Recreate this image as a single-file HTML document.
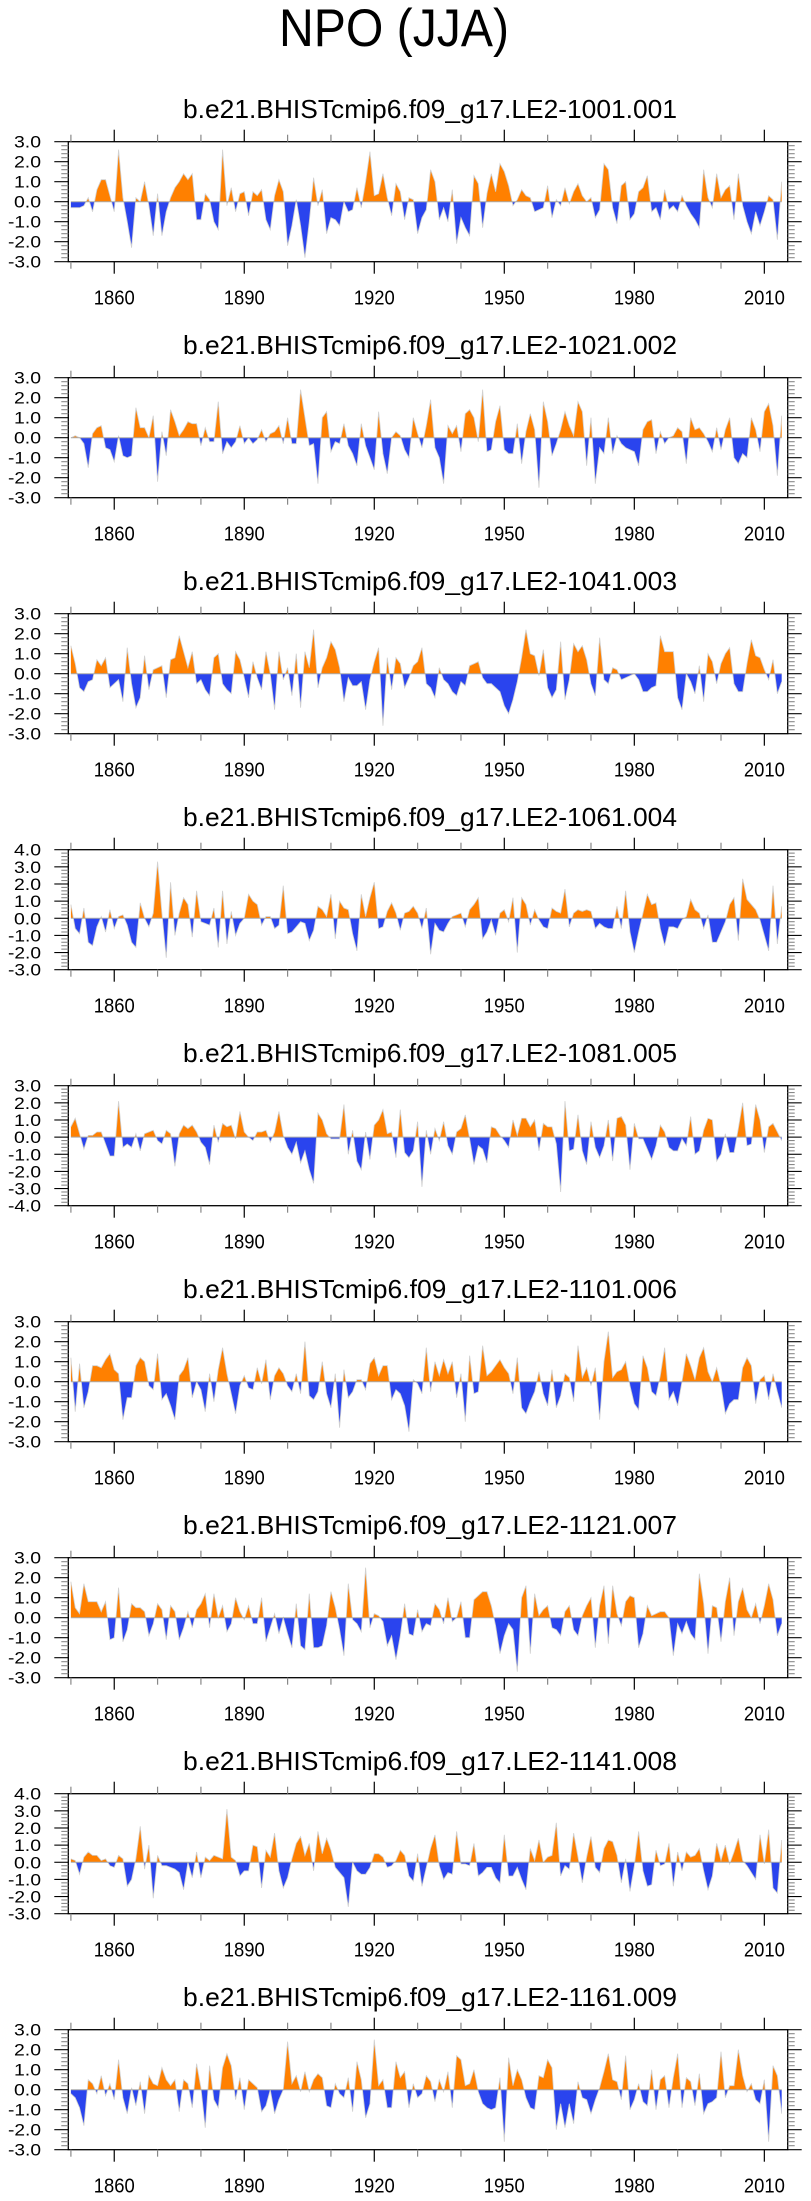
<!DOCTYPE html>
<html><head><meta charset="utf-8">
<style>
html,body{margin:0;padding:0;background:#fff;}
svg{display:block;font-family:"Liberation Sans",sans-serif;}
</style></head>
<body>
<svg id="fig" width="811" height="2201" viewBox="0 0 811 2201" xmlns="http://www.w3.org/2000/svg">
<text x="394" y="46" font-size="53" text-anchor="middle" textLength="230" lengthAdjust="spacingAndGlyphs">NPO (JJA)</text>
</svg>
<script>
const startYear = 1850;
const panelTitles = ["b.e21.BHISTcmip6.f09_g17.LE2-1001.001","b.e21.BHISTcmip6.f09_g17.LE2-1021.002","b.e21.BHISTcmip6.f09_g17.LE2-1041.003","b.e21.BHISTcmip6.f09_g17.LE2-1061.004","b.e21.BHISTcmip6.f09_g17.LE2-1081.005","b.e21.BHISTcmip6.f09_g17.LE2-1101.006","b.e21.BHISTcmip6.f09_g17.LE2-1121.007","b.e21.BHISTcmip6.f09_g17.LE2-1141.008","b.e21.BHISTcmip6.f09_g17.LE2-1161.009"];
const yMins = [-3,-3,-3,-3,-4,-3,-3,-3,-3];
const yMaxs = [3,3,3,4,3,3,3,4,3];
const xTickYears = [1850,1860,1870,1880,1890,1900,1910,1920,1930,1940,1950,1960,1970,1980,1990,2000,2010];
const xLabelYears = [1860,1890,1920,1950,1980,2010];
const s1 = [-0.3,-0.3,-0.3,-0.2,0.2,-0.5,0.6,1.1,1.1,0.3,-0.5,2.6,0.2,-1.0,-2.3,0.2,0,1.0,-0.2,-1.7,0.4,-1.7,-0.5,0.2,0.7,1.0,1.4,1.1,1.4,-0.9,-0.9,0.4,0.1,-1.0,-1.4,2.6,-0.2,0.7,-0.5,0.4,0.5,-0.7,0.5,0.3,0.6,-0.9,-1.4,0.3,1.1,0.5,-2.2,-1.2,0.1,-1.2,-2.8,-1.0,1.2,-0.2,0.6,-1.6,-0.8,-0.9,-1.2,0.0,-0.5,-0.4,0.7,-0.3,1.0,2.5,0.3,0.4,1.4,0.2,-0.7,0.9,0.5,-0.9,0.2,0.1,-1.6,-0.8,-0.4,1.6,1.0,-0.9,-0.3,-1.0,0.6,-2.1,-0.8,-1.3,-1.7,1.3,0.9,-1.3,0.4,1.4,0.5,1.9,1.5,0.8,-0.2,0.1,0.6,0.3,0.2,-0.5,-0.4,-0.3,0.8,-0.8,0.1,-0.2,0.7,-0.1,0.5,0.9,0.3,0.0,0.2,-0.8,-0.4,1.9,1.6,-0.3,-1.1,0.8,1.0,-0.9,-0.6,0.5,0.7,1.3,-0.5,-0.3,-0.9,0.6,-0.4,-0.2,-0.5,0.3,-0.2,-0.6,-0.9,-1.3,1.6,0.2,-0.3,1.4,0.2,0.6,0.8,-0.9,1.4,-0.2,-1.0,-1.6,-0.5,-1.2,-0.5,0.3,0.1,-1.9,1.0];
const s2 = [0.0,0.1,0.0,-0.3,-1.5,0.2,0.5,0.6,-0.5,-0.6,-1.2,0.1,-0.9,-1.0,-0.9,1.5,0.5,0.5,0.0,1.1,-2.2,0.3,-0.9,1.4,0.8,0.1,0.4,0.8,0.7,0.7,-0.4,0.5,-0.2,-0.2,1.8,-0.8,-0.2,-0.5,-0.2,0.6,-0.3,0.0,-0.3,-0.1,0.4,-0.2,0.2,0.3,0.6,-0.3,1.0,-0.3,-0.3,2.4,1.0,-0.4,-0.3,-2.3,1.0,1.3,-0.7,-0.2,-0.3,0.7,-0.4,-0.8,-1.4,0.7,-0.4,-1.0,-1.6,1.3,-0.8,-1.8,0.0,0.3,0.1,-0.6,-1.0,1.0,0.2,-0.5,0.6,1.9,-0.5,-1.0,-2.3,0.6,0.2,0.6,-0.7,1.2,1.4,1.0,-0.2,2.4,-0.7,-0.6,0.8,1.6,-0.6,-0.8,-0.8,0.7,-1.3,0.3,1.2,0.4,-2.5,1.8,0.8,-0.9,-0.3,0.4,1.3,0.6,0.1,1.8,1.3,-1.4,1.0,-2.3,-0.5,-0.8,1.0,-0.8,0.1,-0.3,-0.5,-0.6,-0.7,-1.4,0.4,0.8,0.9,-0.8,0.3,-0.3,0.0,0.1,0.5,0.3,-1.3,1.0,0.4,0.5,0.2,-0.2,-0.7,0.5,-0.6,0.4,1.0,-1.0,-1.3,-0.8,-1.0,1.0,0.4,-0.7,1.3,1.7,0.6,-1.9,1.1];
const s3 = [1.4,0.5,-0.7,-0.9,-0.4,-0.3,0.7,0.4,0.8,-0.7,-0.5,-0.3,-1.4,1.3,-0.5,-1.7,-1.2,0.9,-0.8,0.2,0.3,0.4,-1.2,0.7,0.8,1.9,1.1,0.3,1.1,-0.5,-0.3,-0.8,-1.1,0.8,1.0,-0.5,-0.8,-1.0,1.1,0.7,-0.2,-1.2,0.6,-0.2,-0.8,1.1,0.0,-1.8,1.1,-0.3,0.3,-1.1,1.0,-1.7,1.1,0.3,2.2,-0.7,0.3,0.8,1.6,1.2,0.3,-1.4,-0.2,-0.6,-0.6,-0.4,-1.8,-0.3,0.6,1.3,-2.6,0.8,-0.8,0.8,0.5,-0.7,-0.2,0.4,0.6,1.3,-0.5,-0.7,-1.2,0.3,-0.3,-0.5,-0.9,-1.1,-0.4,-0.6,0.4,0.5,0.6,-0.2,-0.5,-0.5,-0.7,-0.9,-1.6,-2.0,-1.3,-0.4,0.8,2.2,1.0,0.9,-0.1,1.2,-0.7,-1.2,-0.8,1.6,-1.3,-0.3,1.5,1.1,1.4,0.7,-0.5,-1.1,1.8,-0.3,-0.5,0.3,0.2,-0.3,-0.2,-0.1,0.0,-0.3,-0.9,-0.9,-0.7,-0.6,1.9,1.1,1.1,1.1,-1.2,-1.8,0.0,-0.4,-1.0,0.4,-1.4,1.0,0.6,-0.5,0.5,1.0,1.3,-0.5,-0.9,-0.9,0.5,1.7,0.9,0.8,0.2,-0.3,0.7,-1.0,-0.4];
const s4 = [0.8,-0.6,-0.9,0.6,-1.4,-1.6,-0.5,0.1,-0.8,0.5,-0.6,0.1,0.2,-0.4,-1.4,-1.7,0.9,0.0,-0.5,0.3,3.3,0.3,-2.3,2.1,-1.0,0.3,1.2,0.8,-1.1,1.6,-0.2,-0.3,-0.4,0.6,-1.7,1.6,-1.5,0.4,-1.0,-0.3,0.0,1.4,1.0,0.8,-0.4,0.1,0.1,-0.6,-0.4,1.9,-0.9,-0.8,-0.5,-0.2,-0.3,-1.3,-0.7,0.7,0.5,0.1,1.4,-1.2,1.0,0.6,0.5,-0.9,-1.9,1.4,0.1,1.2,2.1,-0.6,-0.5,0.4,0.9,0.3,-0.7,0.3,0.4,0.7,0.3,-0.6,0.6,-2.1,-0.3,-0.7,-0.8,-0.3,0.1,0.2,0.3,-0.5,0.5,0.8,1.2,-1.2,-0.8,-0.1,-1.0,0.3,0.5,-0.2,1.2,-2.0,1.2,0.8,-0.4,0.5,-0.1,-0.5,-0.6,0.6,0.4,0.3,1.7,-0.5,0.3,0.5,0.4,0.5,0.4,-0.6,-0.3,-0.5,-0.6,-0.6,0.7,-0.6,1.6,-0.8,-2.0,-0.8,0.3,1.4,0.8,0.9,-0.6,-1.6,-0.5,-0.5,-0.6,-0.1,0.1,1.1,0.5,0.3,-0.6,0.2,-1.4,-1.4,-0.8,-0.2,0.8,1.2,-1.3,2.3,1.1,0.8,0.5,-0.1,-1.0,-1.9,1.9,-1.5,0.7];
const s5 = [0.6,1.1,0.2,-0.7,0.1,0.1,0.3,0.3,-0.4,-1.1,-1.1,2.1,-0.6,-0.4,-0.6,0.2,-0.8,0.2,0.3,0.4,-0.2,-0.4,0.4,0.2,-1.7,0.2,0.7,0.5,0.7,0.3,-0.3,-0.6,-1.6,0.7,-0.3,0.8,0.6,0.7,-0.1,1.5,0.3,0.0,-0.2,0.3,0.3,0.4,-0.3,0.3,1.5,0.1,-0.6,-1.0,-0.3,-1.5,-0.8,-1.9,-2.7,1.4,1.0,0.2,-0.1,-0.1,-0.1,1.9,-1.0,0.4,-1.4,-1.9,0.3,-1.3,0.7,1.0,1.6,0.2,0.3,-1.2,1.6,-0.9,-1.2,-0.8,0.9,-2.9,0.4,-1.0,0.5,-0.2,0.9,-0.5,-1.0,0.3,0.5,1.3,-0.1,-1.6,-0.5,-0.7,-1.5,0.6,0.5,0.1,-0.2,-0.6,1.0,0.1,1.1,1.1,0.6,1.0,-0.8,0.8,0.6,0.6,-0.4,-3.2,2.1,-0.8,-0.7,1.3,-0.8,-1.6,0.9,-0.6,-1.2,-0.5,1.0,-1.4,1.1,1.2,0.7,-1.9,0.8,-0.1,-0.1,-0.7,-1.3,-0.5,0.7,0.3,-0.6,-0.8,-0.8,-0.1,-0.5,1.2,-1.0,-0.8,0.4,1.1,1.0,-1.4,-1.0,0.2,-0.9,-0.9,0.5,2.0,-0.5,-0.4,1.9,1.0,-0.9,0.6,0.8,0.3,-0.2];
const s6 = [1.2,-1.5,0.9,-1.3,-0.5,0.8,0.8,0.7,1.1,1.4,0.6,0.4,-1.9,-0.8,-0.8,0.8,1.2,1.0,-0.2,-0.4,1.4,-0.9,-0.6,-1.2,-1.9,0.3,0.6,1.2,-0.8,0.0,-0.4,-1.5,0.4,-1.0,0.6,1.7,0.4,-0.6,-1.6,-0.2,0.3,-0.3,-0.4,0.7,-0.1,1.1,-0.9,0.3,0.7,0.4,-0.2,-0.5,0.4,-0.6,2.0,-0.7,-0.9,-0.5,1.0,-0.6,-1.3,0.4,-2.3,0.6,-0.8,-0.5,0.1,0.1,-0.4,0.9,1.2,0.3,0.8,0.8,-0.9,-0.4,-0.6,-1.2,-2.5,0.1,-0.1,-0.6,1.7,-0.5,1.0,0.3,1.1,0.4,1.0,-0.8,0.4,-2.0,1.3,-0.6,-0.5,1.8,0.3,0.5,0.8,1.1,0.7,0.4,-0.6,1.2,-1.3,-1.6,-1.0,-0.5,0.5,-0.6,-1.2,0.6,-1.3,-0.7,0.4,0.2,-1.0,1.8,0.2,0.7,-0.2,0.7,-1.9,1.0,2.5,0.2,0.5,0.6,1.0,-0.2,-1.1,-1.4,1.3,0.7,-0.5,-0.7,0.3,1.7,-0.9,-0.5,-1.2,0.0,1.4,0.8,0.1,1.2,1.7,0.5,0.0,0.7,-0.2,-1.6,-1.1,-0.9,-0.9,0.7,1.2,0.8,-1.1,0.1,0.3,-0.9,0.4,-0.5,-1.3];
const s7 = [1.8,0.5,0.2,1.7,0.8,0.8,0.8,0.3,0.8,-1.1,-1.0,1.5,-1.2,-0.6,0.7,0.5,0.5,0.3,-0.9,-0.3,0.7,0.4,-1.1,0.6,0.3,-1.1,-0.5,0.3,-0.5,0.4,0.7,1.2,-0.5,1.2,0.0,0.6,-0.7,-0.3,1.0,0.3,-0.1,0.6,-0.3,-0.3,1.0,-1.2,-0.5,0.2,-0.8,0.0,-0.8,-1.5,0.7,-1.4,-1.6,1.2,-1.5,-1.5,-1.4,-0.4,1.3,0.5,-0.6,-1.9,1.7,-0.1,-0.3,-0.7,2.5,-0.5,0.2,0.1,-0.2,-1.4,-0.9,-2.1,-0.9,0.7,-0.8,-0.9,0.4,-0.7,-0.3,-0.4,0.7,0.4,-0.3,1.0,-0.2,0.0,0.8,-1.0,-1.0,0.9,1.1,1.3,1.3,0.6,-0.4,-1.8,-0.9,-0.3,-0.6,-2.7,1.0,1.6,-1.8,1.2,0.1,0.4,0.6,-0.5,-0.6,-0.9,0.3,0.6,-0.6,-0.9,0.1,0.6,1.0,-1.5,0.6,1.6,-1.3,1.6,0.2,-0.4,0.8,1.1,1.0,-1.5,-0.8,0.6,0.1,0.2,0.3,0.3,0.0,-1.9,-0.3,-0.8,-0.2,-0.8,-1.1,2.2,0.7,-1.8,0.6,0.5,-1.2,0.8,2.0,-0.9,0.8,1.5,0.4,0.0,0.7,-0.3,0.6,1.7,0.9,-0.9,-0.3];
const s8 = [0.2,0.1,-0.7,0.3,0.6,0.4,0.4,0.1,0.2,-0.2,-0.3,0.4,0.2,-1.4,-1.0,0.2,2.1,-0.4,1.0,-2.1,0.4,-0.2,-0.2,-0.3,-0.4,-0.6,-1.6,0.0,-0.9,0.6,-0.9,0.3,0.1,0.4,0.3,0.2,3.1,0.3,0.1,-0.8,-0.5,-0.5,1.0,0.9,-1.5,0.7,0.3,1.7,-0.5,-1.5,-0.9,0.2,1.1,1.5,0.4,1.1,-0.5,1.8,0.5,1.4,0.7,-0.3,-0.6,-0.9,-2.6,0.0,-0.5,-0.7,-0.7,-0.3,0.5,0.5,0.3,-0.3,-0.2,0.1,0.7,0.4,-0.8,-1.1,0.5,-1.4,-0.3,0.8,1.6,-0.2,-1.0,-0.6,-0.7,1.8,-0.1,-0.1,-0.2,1.1,-0.8,-0.6,-0.3,-0.3,-0.9,-1.2,1.6,-0.8,-0.8,-0.3,-1.0,-1.6,0.8,0.1,1.3,0.0,0.3,0.4,2.3,-0.8,-0.2,-0.4,1.7,0.3,-1.2,0.3,1.5,-0.3,-0.6,0.8,1.3,1.2,0.4,-1.2,0.2,-1.7,-0.2,1.8,-0.5,-1.4,-1.3,0.7,-0.2,-0.1,1.1,-1.4,0.6,-0.5,0.6,0.3,0.4,0.8,-0.5,-1.6,-0.8,1.1,0.1,1.0,-0.1,0.6,1.4,0.1,-0.2,-0.6,-1.0,1.6,-0.1,1.9,-1.5,-1.8,1.3];
const s9 = [-0.2,-0.4,-0.9,-1.8,0.5,0.3,-0.2,0.7,-0.3,0.3,-0.5,1.5,-0.4,-1.2,0.1,-0.8,0.4,-1.2,0.7,0.3,0.2,1.1,0.5,0.2,0.5,-1.1,0.5,0.3,-0.9,1.3,0.1,-1.9,1.2,-0.5,-0.9,1.1,1.8,1.2,-0.5,0.6,-1.0,0.5,0.3,0.1,-1.1,-0.8,0.0,-1.2,-0.5,0.0,2.4,0.3,0.7,-0.1,0.9,-0.1,0.5,0.8,0.6,-0.8,-0.9,0.3,-0.2,-0.4,0.6,-1.1,1.4,0.5,-1.4,-0.7,2.5,0.2,0.5,-0.9,-0.9,1.4,0.6,0.9,-0.9,0.3,-0.4,-0.2,0.7,0.4,-0.6,0.5,-0.1,0.9,-0.9,1.7,1.5,0.2,0.3,1.0,-0.1,-0.7,-0.9,-1.0,-0.9,0.6,-2.6,1.6,0.2,1.0,0.5,-0.4,-0.9,-1.0,0.7,0.6,1.5,1.1,-2.0,-0.7,-1.9,-0.7,-1.7,0.4,-0.4,-0.5,-1.2,-0.5,0.1,0.9,1.8,0.5,0.4,-0.5,1.7,-1.0,-0.5,0.3,-0.6,-0.8,1.0,-1.0,0.5,0.7,-0.9,0.6,1.8,-0.9,0.6,0.4,-0.8,0.8,-1.2,-0.7,-0.6,-0.4,1.9,-0.4,0.2,0.2,2.0,0.7,-0.1,0.3,-0.5,-0.7,0.5,-2.6,1.2,0.7,-1.2];
const allSeries = [s1,s2,s3,s4,s5,s6,s7,s8,s9];

const NS = "http://www.w3.org/2000/svg";
const svg = document.getElementById('fig');
const FL = 68.3, FR = 787.7, PH = 120, TOP0 = 141.7, GAP = 236;
const X0 = 70.9, XSTEP = 4.334;
function mk(tag, attrs, parent){ const e=document.createElementNS(NS,tag); for(const k in attrs) e.setAttribute(k,attrs[k]); (parent||svg).appendChild(e); return e; }
function xOf(year){ return X0 + (year-1850)*XSTEP; }

allSeries.forEach((vals, p) => {
  const top = TOP0 + p*GAP, bot = top + PH;
  const ymin = yMins[p], ymax = yMaxs[p];
  const yOf = v => bot - (v - ymin)/(ymax - ymin)*PH;
  const g = mk('g', {});
  
  
  const t = mk('text', {x: 430, y: top-23.5, 'font-size': 26, 'text-anchor':'middle', textLength: 494, lengthAdjust:'spacingAndGlyphs'}, g);
  
  
  t.textContent = panelTitles[p];
  const y0 = yOf(0);
  let d = 'M' + xOf(startYear).toFixed(2) + ',' + y0.toFixed(2);
  vals.forEach((v,i)=>{ d += ' L' + xOf(startYear+i).toFixed(2) + ',' + yOf(v).toFixed(2); });
  d += ' L' + xOf(startYear+vals.length-1).toFixed(2) + ',' + y0.toFixed(2) + ' Z';
  const cid = 'c'+p;
  const defs = mk('defs', {}, g);
  const cpA = mk('clipPath', {id: cid+'a'}, defs);
  mk('rect', {x: FL, y: top, width: FR-FL, height: y0-top}, cpA);
  const cpB = mk('clipPath', {id: cid+'b'}, defs);
  mk('rect', {x: FL, y: y0, width: FR-FL, height: bot-y0}, cpB);
  const pa = mk('path', {d: d, fill: '#ff8000', 'clip-path': 'url(#'+cid+'a)'}, g);
  
  
  const pb = mk('path', {d: d, fill: '#2a44ee', 'clip-path': 'url(#'+cid+'b)'}, g);
  
  
  let ld = '';
  vals.forEach((v,i)=>{ ld += (i? ' L':'M') + xOf(startYear+i).toFixed(2) + ',' + yOf(v).toFixed(2); });
  mk('path', {d: ld, fill: 'none', stroke: '#d0d0d0', 'stroke-width': 0.8}, g);
  const zl = mk('line', {x1: xOf(startYear), x2: xOf(startYear+vals.length-1), y1: y0, y2: y0, stroke: '#aaaaaa', 'stroke-width': 1}, g);
  
  
  const fr = mk('rect', {x: FL, y: top, width: FR-FL, height: PH, fill: 'none', stroke: '#000', 'stroke-width': 1.3}, g);
  
  
  xTickYears.forEach(yr => {
    const x = xOf(yr);
    const major = xLabelYears.indexOf(yr) >= 0;
    const L = major ? 12 : 7;
    mk('line', {x1:x, x2:x, y1: top, y2: top-L, stroke: major?'#000':'#888', 'stroke-width': 1.2}, g);
    mk('line', {x1:x, x2:x, y1: bot, y2: bot+L, stroke: major?'#000':'#888', 'stroke-width': 1.2}, g);
  });
  xLabelYears.forEach(yr => {
    const tx = mk('text', {x: xOf(yr), y: bot+43, 'font-size': 20, 'text-anchor': 'middle', textLength: 41, lengthAdjust: 'spacingAndGlyphs'}, g);
    
    
    tx.textContent = yr;
  });
  for (let k = Math.round(ymin*5); k <= Math.round(ymax*5); k++) {
    const v = k/5, y = yOf(v);
    const major = k % 5 === 0;
    const L = major ? 14 : 7;
    mk('line', {x1: FL, x2: FL-L, y1: y, y2: y, stroke: major?'#000':'#888', 'stroke-width': 1.1}, g);
    mk('line', {x1: FR, x2: FR+L, y1: y, y2: y, stroke: major?'#000':'#888', 'stroke-width': 1.1}, g);
    if (major) {
      const lab = v.toFixed(1);
      const ty = mk('text', {x: 41, y: y+6, 'font-size': 17, 'text-anchor': 'end', textLength: lab.length===4?33:27, lengthAdjust: 'spacingAndGlyphs'}, g);
      
      
      ty.textContent = lab;
    }
  }
});
</script>
</body></html>
